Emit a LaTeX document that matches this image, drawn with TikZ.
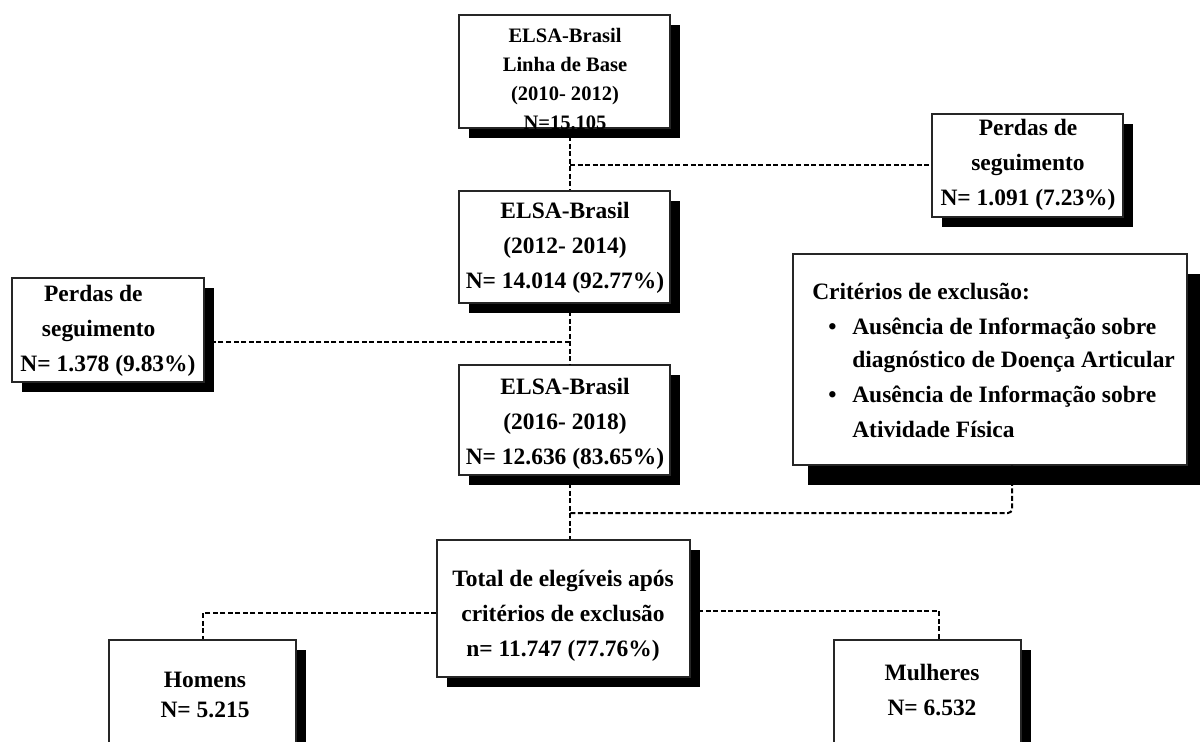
\documentclass[tikz,border=0pt]{standalone}
\usepackage{fontspec}
\setmainfont{Liberation Serif}
\usetikzlibrary{shadows,calc}
\begin{document}
\begin{tikzpicture}[x=0.75pt,y=-0.75pt,
  box/.style={draw=black!85, line width=1.1pt, fill=white, rectangle, inner sep=0pt,
    drop shadow={shadow xshift=7.5pt, shadow yshift=-7.5pt, fill=black, opacity=1}},
  bigbox/.style={draw=black!85, line width=1.1pt, fill=white, rectangle, inner sep=0pt,
    drop shadow={shadow xshift=11pt, shadow yshift=-15pt, fill=black, opacity=1}},
  lbl/.style={font=\fontsize{17.6}{26.25}\selectfont\bfseries, align=center, inner sep=0pt},
  lbltop/.style={font=\fontsize{15.4}{21.75}\selectfont\bfseries, align=center, inner sep=0pt},
  crit/.style={font=\fontsize{17.6}{26.25}\selectfont\bfseries, inner sep=0pt, anchor=base west},
  conn/.style={line width=1.5pt, dash pattern=on 3.75pt off 1.9pt}
]
\useasboundingbox (0,0) rectangle (1200,742);
\clip (0,0) rectangle (1200,742);

% boxes
\node[box, minimum width=158.25pt, minimum height=84.75pt] (A) at (564.5,71.5) {};
\node[box, minimum width=158.25pt, minimum height=84pt] (B) at (564.5,247) {};
\node[box, minimum width=143.25pt, minimum height=77.25pt] (C) at (1027.5,165.5) {};
\node[bigbox, minimum width=295.5pt, minimum height=158.25pt] (D) at (990,359.5) {};
\node[box, minimum width=144pt, minimum height=78pt] (E) at (108,330) {};
\node[box, minimum width=158.25pt, minimum height=82.5pt] (F) at (564.5,420) {};
\node[box, minimum width=189.75pt, minimum height=102.75pt] (G) at (563.5,608.5) {};
\node[box, minimum width=140.25pt, minimum height=97.5pt] (H) at (202.5,705) {};
\node[box, minimum width=140.25pt, minimum height=97.5pt] (M) at (927.5,705) {};

% texts
\node[lbltop] (tA) at (565,79) {ELSA-Brasil\\Linha de Base\\(2010- 2012)\\N=15.105};
\node[lbl] (tB) at (565,248) {ELSA-Brasil\\(2012- 2014)\\N= 14.014 (92.77\%)};
\node[lbl] (tC) at (1028,165) {Perdas de\\seguimento\\N= 1.091 (7.23\%)};
\node[lbl] (tE) at (108,331) {\hspace*{-22pt}Perdas de\\\hspace*{-14pt}seguimento\\N= 1.378 (9.83\%)};
\node[lbl] (tF) at (565,424) {ELSA-Brasil\\(2016- 2018)\\N= 12.636 (83.65\%)};
\node[lbl] (tG) at (563,616) {Total de elegíveis após\\critérios de exclusão\\n= 11.747 (77.76\%)};
\node[lbl, font=\fontsize{17.6}{22.5}\selectfont\bfseries] (tH) at (205,695) {Homens\\N= 5.215};
\node[lbl] (tM) at (932,690) {Mulheres\\N= 6.532};

\node[crit] (d0) at (812,299) {Critérios de exclusão:};
\node[crit] (b1) at (828,334) {•};
\node[crit] (d1) at (852,334) {Ausência de Informação sobre};
\node[crit] (d2) at (852,367) {diagnóstico de Doença Articular};
\node[crit] (b2) at (828,402) {•};
\node[crit] (d3) at (852,402) {Ausência de Informação sobre};
\node[crit] (d4) at (852,437) {Atividade Física};

% connectors
\coordinate (j1) at (570,165);
\coordinate (j2) at (570,342);
\coordinate (j3) at (570,513);
\coordinate (k) at (1012,513);
\coordinate (h1) at (203,613);
\coordinate (m1) at (939,611);

\draw[conn] (j1 |- A.south) -- (j1 |- B.north);
\draw[conn] (j1) -- (j1 -| C.west);
\draw[conn] (j2 |- B.south) -- (j2 |- F.north);
\draw[conn] (j2) -- (j2 -| E.east);
\draw[conn] (j3 |- F.south) -- (j3 |- G.north);
\draw[conn, rounded corners=3pt] (k |- D.south) -- (k) -- (j3);
\draw[conn] (h1 -| G.west) -- (h1) -- (h1 |- H.north);
\draw[conn] (m1 -| G.east) -- (m1) -- (m1 |- M.north);
\end{tikzpicture}
\end{document}
